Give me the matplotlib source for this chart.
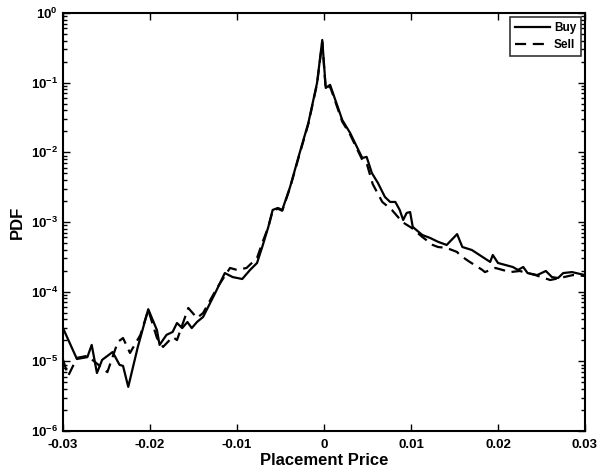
import matplotlib
matplotlib.use("Agg")
import matplotlib.pyplot as plt
from matplotlib.ticker import LogLocator, FixedLocator, NullFormatter, LogFormatterMathtext

plt.rcParams['font.family'] = ['Liberation Sans', 'DejaVu Sans']

# Placement-price distributions for buy and sell orders
buy_price = [-0.0300, -0.0284, -0.0272, -0.0267, -0.0261, -0.0255, -0.0243, -0.0235,
             -0.0231, -0.0225, -0.0214, -0.0202, -0.0192, -0.0189, -0.0181, -0.0174,
             -0.0169, -0.0163, -0.0157, -0.0152, -0.0146, -0.0139, -0.0125, -0.0114,
             -0.0105, -0.0094, -0.0085, -0.0077, -0.0071, -0.0064, -0.0059, -0.0053,
             -0.0048, -0.0039, -0.0028, -0.0018, -0.0008, -0.0002, 0.0002, 0.0007,
             0.0021, 0.0030, 0.0044, 0.0049, 0.0055, 0.0062, 0.0070, 0.0076,
             0.0082, 0.0087, 0.0091, 0.0095, 0.0099, 0.0102, 0.0113, 0.0122,
             0.0131, 0.0141, 0.0153, 0.0159, 0.0170, 0.0191, 0.0194, 0.0200,
             0.0217, 0.0223, 0.0229, 0.0234, 0.0245, 0.0255, 0.0262, 0.0269,
             0.0275, 0.0285, 0.0300]
buy_pdf = [3.0e-5, 1.08e-5, 1.15e-5, 1.72e-5, 6.8e-6, 1.05e-5, 1.36e-5, 8.9e-6,
           8.6e-6, 4.3e-6, 1.61e-5, 5.6e-5, 2.8e-5, 1.72e-5, 2.4e-5, 2.64e-5,
           3.55e-5, 3.0e-5, 3.67e-5, 3.0e-5, 3.67e-5, 4.33e-5, 9.6e-5, 1.85e-4,
           1.62e-4, 1.52e-4, 2.05e-4, 2.58e-4, 4.38e-4, 8.5e-4, 1.49e-3, 1.59e-3,
           1.49e-3, 3.18e-3, 9.8e-3, 2.64e-2, 9.9e-2, 0.41, 8.4e-2, 9.3e-2,
           2.91e-2, 1.90e-2, 8.3e-3, 8.6e-3, 5.05e-3, 3.63e-3, 2.29e-3, 1.94e-3,
           1.94e-3, 1.49e-3, 1.07e-3, 1.35e-3, 1.39e-3, 8.5e-4, 6.5e-4, 5.9e-4,
           5.2e-4, 4.68e-4, 6.7e-4, 4.38e-4, 3.96e-4, 2.67e-4, 3.36e-4, 2.58e-4,
           2.26e-4, 2.05e-4, 2.26e-4, 1.85e-4, 1.73e-4, 1.98e-4, 1.62e-4, 1.57e-4,
           1.85e-4, 1.91e-4, 1.73e-4]

sell_price = [-0.0300, -0.0294, -0.0284, -0.0272, -0.0249, -0.0237, -0.0231, -0.0223,
              -0.0211, -0.0202, -0.0192, -0.0185, -0.0174, -0.0169, -0.0156, -0.0146,
              -0.0139, -0.0123, -0.0108, -0.0100, -0.0089, -0.0077, -0.0071, -0.0064,
              -0.0059, -0.0053, -0.0048, -0.0039, -0.0028, -0.0018, -0.0008, -0.0002,
              0.0002, 0.0007, 0.0021, 0.0030, 0.0044, 0.0049, 0.0056, 0.0067,
              0.0078, 0.0090, 0.0101, 0.0113, 0.0125, 0.0131, 0.0141, 0.0153,
              0.0156, 0.0166, 0.0182, 0.0185, 0.0197, 0.0214, 0.0225, 0.0243,
              0.0260, 0.0271, 0.0286, 0.0300]
sell_pdf = [1.05e-5, 6.2e-6, 1.12e-5, 1.2e-5, 7.0e-6, 1.9e-5, 2.16e-5, 1.32e-5,
            2.4e-5, 5.46e-5, 2.16e-5, 1.61e-5, 2.24e-5, 2.02e-5, 5.83e-5, 4.19e-5,
            4.94e-5, 1.13e-4, 2.19e-4, 2.05e-4, 2.19e-4, 3.04e-4, 5.0e-4, 8.5e-4,
            1.45e-3, 1.55e-3, 1.45e-3, 3.1e-3, 9.5e-3, 2.55e-2, 9.6e-2, 0.38,
            8.0e-2, 8.8e-2, 2.75e-2, 1.8e-2, 7.8e-3, 7.0e-3, 3.5e-3, 1.94e-3,
            1.49e-3, 1.0e-3, 8.2e-4, 6.1e-4, 4.68e-4, 4.38e-4, 4.24e-4, 3.71e-4,
            3.36e-4, 2.75e-4, 2.05e-4, 1.91e-4, 2.19e-4, 1.91e-4, 1.98e-4, 1.73e-4,
            1.47e-4, 1.57e-4, 1.73e-4, 1.68e-4]

x_ticks = [-0.03, -0.02, -0.01, 0, 0.01, 0.02, 0.03]
x_tick_labels = ['-0.03', '-0.02', '-0.01', '0', '0.01', '0.02', '0.03']
y_ticks = [1e-6, 1e-5, 1e-4, 1e-3, 1e-2, 1e-1, 1e0]

fig = plt.figure(figsize=(5.97, 4.73), dpi=100)
ax = fig.add_axes([63 / 597, 42 / 473, 522 / 597, 418 / 473])

ax.plot(buy_price, buy_pdf, color='black', linestyle='-', linewidth=1.6, label='Buy')
ax.plot(sell_price, sell_pdf, color='black', linestyle=(0, (5, 3)), linewidth=1.6, label='Sell')

ax.set_yscale('log')
ax.set_xlim(-0.03, 0.03)
ax.set_ylim(1e-6, 1)
ax.xaxis.set_major_locator(FixedLocator(x_ticks))
ax.set_xticklabels(x_tick_labels, fontweight='bold')
ax.yaxis.set_major_locator(FixedLocator(y_ticks))
ax.yaxis.set_major_formatter(LogFormatterMathtext())
ax.yaxis.set_minor_locator(LogLocator(base=10, subs=range(2, 10), numticks=20))
ax.yaxis.set_minor_formatter(NullFormatter())

ax.tick_params(axis='both', which='both', direction='in', top=True, right=True,
               labelsize=9.5, width=1.0)
ax.tick_params(axis='both', which='major', length=5)
ax.tick_params(axis='both', which='minor', length=3)
ax.tick_params(axis='x', which='major', pad=6)
for lbl in ax.get_yticklabels():
    lbl.set_fontweight('bold')
for sp in ax.spines.values():
    sp.set_linewidth(1.5)

ax.set_xlabel('Placement Price', fontsize=12, fontweight='bold', labelpad=1)
ax.set_ylabel('PDF', fontsize=12, fontweight='bold', labelpad=4)

leg = ax.legend(loc='upper right', fontsize=8.5, frameon=True, fancybox=False,
                edgecolor='black', handlelength=3.0, borderpad=0.45,
                labelspacing=0.45, handletextpad=0.3, borderaxespad=0.3)
leg.get_frame().set_linewidth(1.2)
for t in leg.get_texts():
    t.set_fontweight('bold')

fig.savefig('out.png', dpi=100)
